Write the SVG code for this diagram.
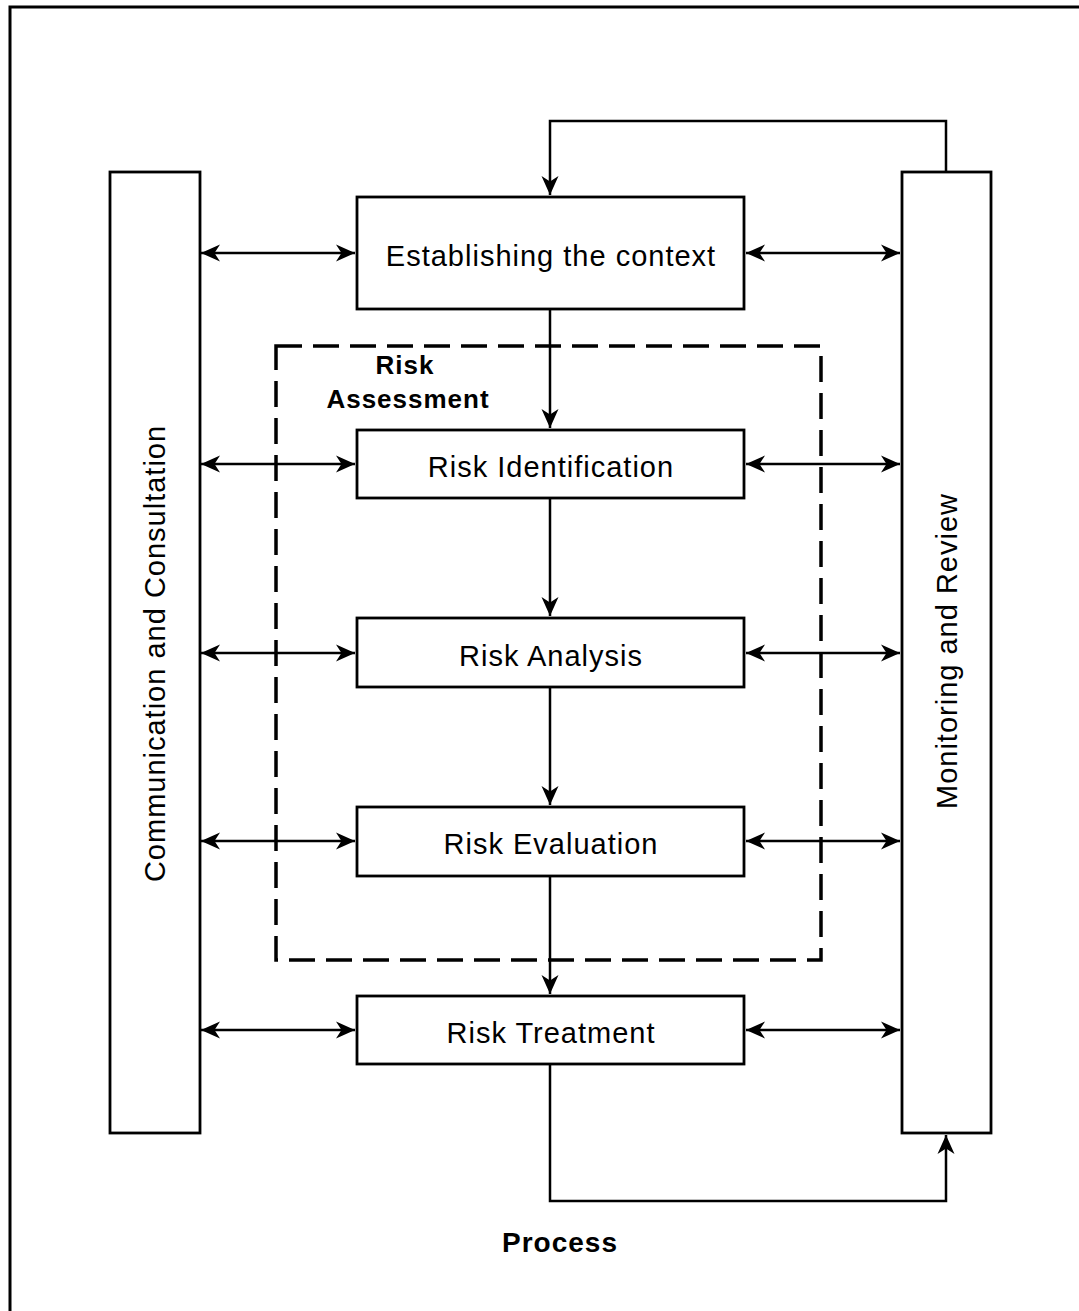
<svg xmlns="http://www.w3.org/2000/svg" width="1079" height="1311" viewBox="0 0 1079 1311">
<style>
.box{fill:#fff;stroke:#000;stroke-width:2.8}
.lbl{font-family:"Liberation Sans",Arial,sans-serif;font-size:29px;letter-spacing:1px;fill:#000;text-anchor:middle}
.bold{font-family:"Liberation Sans",Arial,sans-serif;font-weight:bold;fill:#000;text-anchor:middle;letter-spacing:1px}
.con{fill:none;stroke:#000;stroke-width:2.5}
.dash{fill:none;stroke:#000;stroke-width:3.5;stroke-dasharray:26 11}
</style>
<defs>
<marker id="ah" viewBox="-21 -10 23 20" refX="0" refY="0" markerWidth="23" markerHeight="20" markerUnits="userSpaceOnUse" orient="auto-start-reverse">
<path d="M0,0 L-19,-8.5 L-13.5,0 L-19,8.5 Z" fill="#000"/>
</marker>
</defs>
<rect width="1079" height="1311" fill="#fff"/>
<path d="M10,1311 V7 H1079" fill="none" stroke="#000" stroke-width="3"/>

<g id="risk-assessment">
<rect class="dash" x="276" y="346" width="545" height="614"/>
<text class="bold" x="405" y="374" font-size="26">Risk</text>
<text class="bold" x="408" y="408" font-size="26">Assessment</text>
</g>

<g id="connectors">
<path class="con" d="M946,172 V121 H550 V195" marker-end="url(#ah)"/>
<path class="con" d="M550,1064 V1201 H946 V1135" marker-end="url(#ah)"/>
<path class="con" d="M550,309 V428" marker-end="url(#ah)"/>
<path class="con" d="M550,498 V616" marker-end="url(#ah)"/>
<path class="con" d="M550,687 V805" marker-end="url(#ah)"/>
<path class="con" d="M550,876 V994" marker-end="url(#ah)"/>
<path class="con" d="M201,253 H355" marker-start="url(#ah)" marker-end="url(#ah)"/>
<path class="con" d="M746,253 H900" marker-start="url(#ah)" marker-end="url(#ah)"/>
<path class="con" d="M201,464 H355" marker-start="url(#ah)" marker-end="url(#ah)"/>
<path class="con" d="M746,464 H900" marker-start="url(#ah)" marker-end="url(#ah)"/>
<path class="con" d="M201,653 H355" marker-start="url(#ah)" marker-end="url(#ah)"/>
<path class="con" d="M746,653 H900" marker-start="url(#ah)" marker-end="url(#ah)"/>
<path class="con" d="M201,841 H355" marker-start="url(#ah)" marker-end="url(#ah)"/>
<path class="con" d="M746,841 H900" marker-start="url(#ah)" marker-end="url(#ah)"/>
<path class="con" d="M201,1030 H355" marker-start="url(#ah)" marker-end="url(#ah)"/>
<path class="con" d="M746,1030 H900" marker-start="url(#ah)" marker-end="url(#ah)"/>
</g>

<g id="communication">
<rect class="box" x="110" y="172" width="90" height="961"/>
<text class="lbl" transform="translate(165,653.5) rotate(-90)">Communication and Consultation</text>
</g>
<g id="monitoring">
<rect class="box" x="902" y="172" width="89" height="961"/>
<text class="lbl" transform="translate(957,651) rotate(-90)">Monitoring and Review</text>
</g>
<g id="context">
<rect class="box" x="357" y="197" width="387" height="112"/>
<text class="lbl" x="551" y="266">Establishing the context</text>
</g>
<g id="identification">
<rect class="box" x="357" y="430" width="387" height="68"/>
<text class="lbl" x="551" y="477">Risk Identification</text>
</g>
<g id="analysis">
<rect class="box" x="357" y="618" width="387" height="69"/>
<text class="lbl" x="551" y="666">Risk Analysis</text>
</g>
<g id="evaluation">
<rect class="box" x="357" y="807" width="387" height="69"/>
<text class="lbl" x="551" y="854">Risk Evaluation</text>
</g>
<g id="treatment">
<rect class="box" x="357" y="996" width="387" height="68"/>
<text class="lbl" x="551" y="1043">Risk Treatment</text>
</g>
<text id="process" class="bold" x="560" y="1252" font-size="28">Process</text>
</svg>
